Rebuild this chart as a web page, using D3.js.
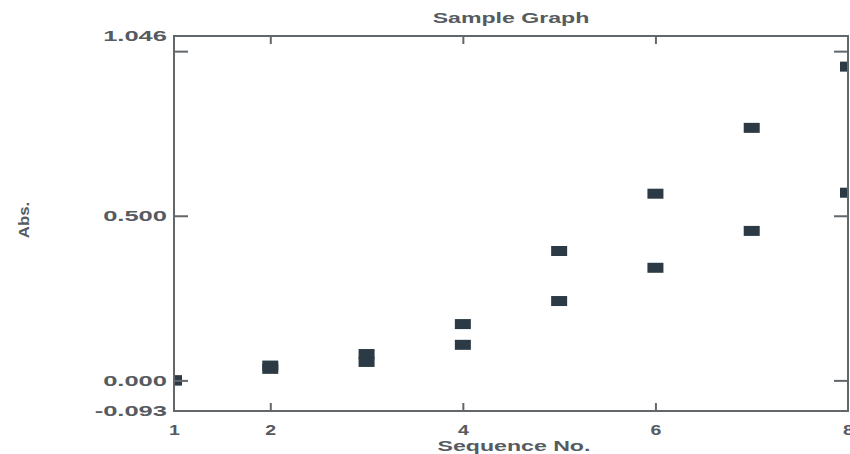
<!DOCTYPE html>
<html>
<head>
<meta charset="utf-8">
<script src="https://cdn.jsdelivr.net/npm/d3@7"></script>
<style>
  body { margin: 0; background: #fff; }
  svg { display: block; }
  text { font-family: "Liberation Sans", Arial, sans-serif; fill: #555b60; font-weight: bold; }
</style>
</head>
<body>
<script>
// chart data
var seqNo = [1, 2, 3, 4, 5, 6, 7, 8];
var upper = [0.000, 0.045, 0.080, 0.171, 0.393, 0.567, 0.767, 0.953];
var lower = [0.000, 0.035, 0.056, 0.108, 0.241, 0.342, 0.454, 0.570];
var yTickLabels = [-0.093, 0.000, 0.500, 1.046];
var yInnerTicks = [0, 0.5, 1.0];
var xTickLabels = [1, 2, 4, 6, 8];
var xInnerTicks = [2, 4, 6];

var width = 850, height = 454;
var margin = {top: 36, right: 2, bottom: 43, left: 174};
var w = width - margin.left - margin.right,
    h = height - margin.top - margin.bottom;

var ink = '#62676b', dot = '#2b3a44';

var svg = d3.select('body').append('svg')
    .attr('width', width)
    .attr('height', height);

var x = d3.scaleLinear().domain([1, 8]).range([0, w]);
var y = d3.scaleLinear().domain([-0.093, 1.046]).range([h, 0]);

var g = svg.append('g').attr('transform', `translate(${margin.left},${margin.top})`);

// clip so the edge markers are cut by the frame like in the scan
g.append('clipPath').attr('id', 'plot')
    .append('rect').attr('width', w).attr('height', h);

// markers
var pts = [];
seqNo.forEach(function(s, i) {
    pts.push([s, upper[i]]);
    pts.push([s, lower[i]]);
});
g.append('g').attr('clip-path', 'url(#plot)')
    .selectAll('rect').data(pts).enter().append('rect')
    .attr('x', function(d) { return x(d[0]) - 8; })
    .attr('y', function(d) { return y(d[1]) - 5; })
    .attr('width', 16)
    .attr('height', 10)
    .attr('fill', dot);

// frame
g.append('rect')
    .attr('width', w).attr('height', h)
    .attr('fill', 'none')
    .attr('stroke', ink)
    .attr('stroke-width', 2);

// inner ticks on all four sides
function inner(axis) {
    return function(sel) {
        sel.call(axis);
        sel.select('.domain').remove();
        sel.selectAll('line').attr('stroke', ink).attr('stroke-width', 2);
    };
}
g.append('g').call(inner(d3.axisLeft(y).tickValues(yInnerTicks).tickSize(-14).tickFormat('')));
g.append('g').attr('transform', `translate(${w},0)`)
    .call(inner(d3.axisRight(y).tickValues(yInnerTicks).tickSize(-14).tickFormat('')));
g.append('g').attr('transform', `translate(0,${h})`)
    .call(inner(d3.axisBottom(x).tickValues(xInnerTicks).tickSize(-8).tickFormat('')));
g.append('g')
    .call(inner(d3.axisTop(x).tickValues(xInnerTicks).tickSize(-8).tickFormat('')));

// tick labels (plain hyphen for the minus, as printed)
var fmt3 = function(d) { return d3.format('.3f')(d).replace('\u2212', '-'); };
var yl = g.append('g')
    .call(d3.axisLeft(y).tickValues(yTickLabels).tickSize(0).tickPadding(7).tickFormat(fmt3));
var xl = g.append('g').attr('transform', `translate(0,${h})`)
    .call(d3.axisBottom(x).tickValues(xTickLabels).tickSize(0).tickPadding(13).tickFormat(d3.format('d')));
[yl, xl].forEach(function(a) {
    a.select('.domain').remove();
    a.selectAll('text').attr('font-size', 15).attr('fill', '#555b60')
        .style('font-family', '"Liberation Sans", Arial, sans-serif')
        .style('font-weight', 'bold');
});

// the scan stretches text sideways
function stretch(sel, k) {
    sel.each(function() {
        var len = this.getComputedTextLength();
        d3.select(this).attr('textLength', len * k).attr('lengthAdjust', 'spacingAndGlyphs');
    });
}
stretch(yl.selectAll('text'), 1.7);
stretch(xl.selectAll('text'), 1.3);

// titles
var title = svg.append('text')
    .attr('x', 511).attr('y', 23)
    .attr('text-anchor', 'middle')
    .attr('font-size', 14)
    .text('Sample Graph');
var xTitle = svg.append('text')
    .attr('x', 514).attr('y', 451)
    .attr('text-anchor', 'middle')
    .attr('font-size', 14)
    .text('Sequence No.');
var yTitle = svg.append('text')
    .attr('transform', 'translate(29,220) rotate(-90)')
    .attr('text-anchor', 'middle')
    .attr('font-size', 14)
    .text('Abs.');
stretch(title, 1.65);
stretch(xTitle, 1.65);
stretch(yTitle, 1.2);
</script>
</body>
</html>
